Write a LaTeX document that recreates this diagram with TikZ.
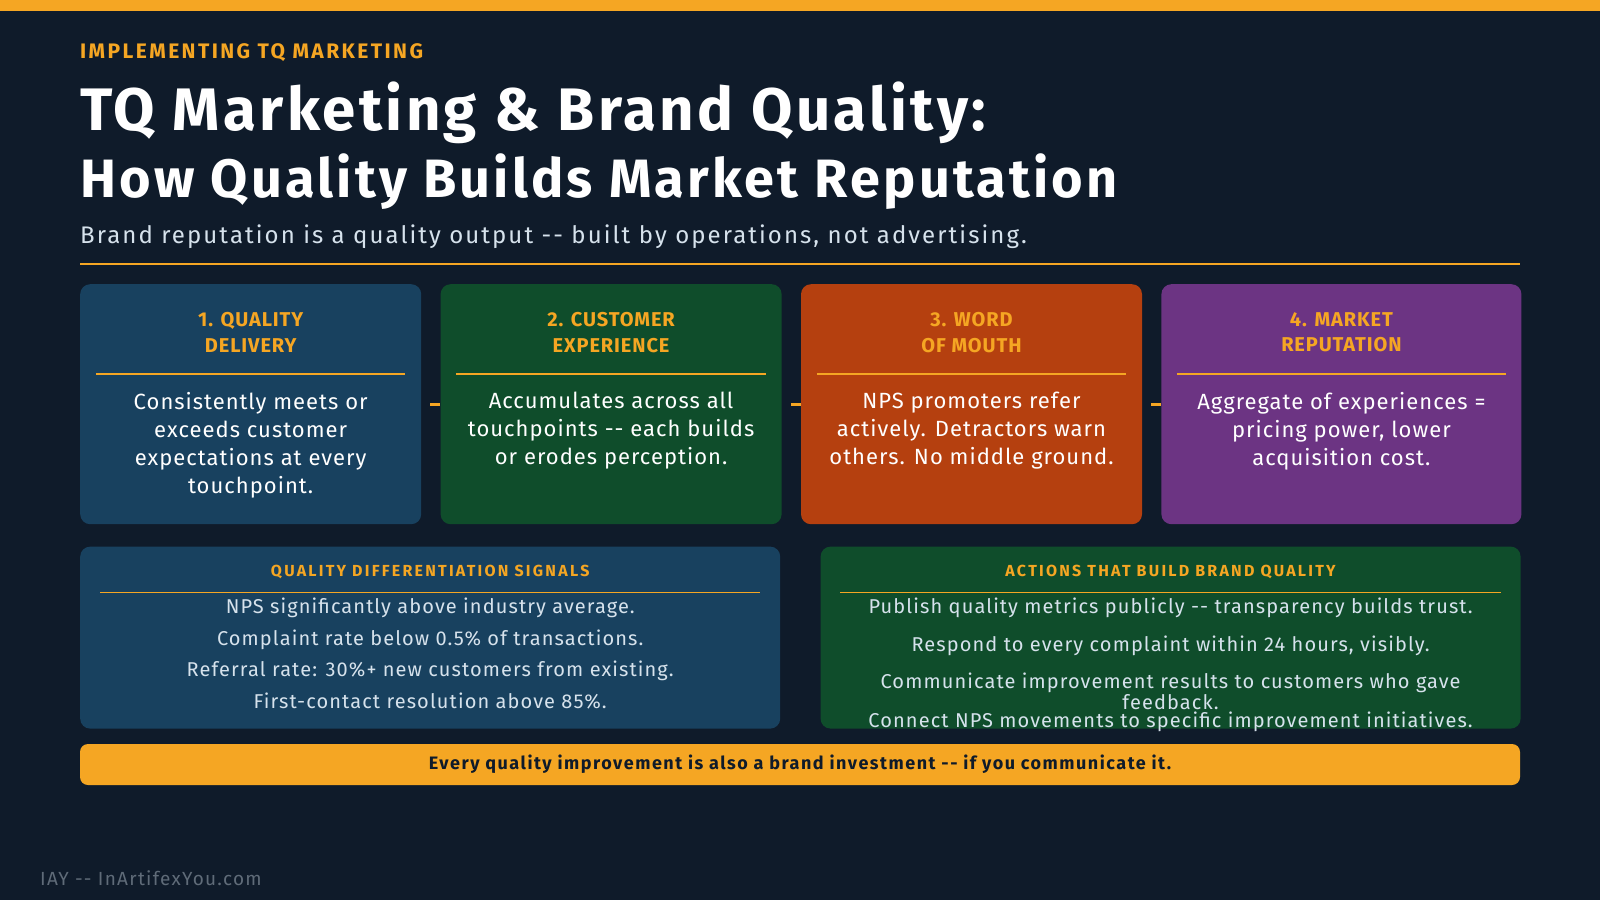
\documentclass[tikz,border=0pt]{standalone}
\usepackage{fontspec}
\setmainfont{Fira Sans}
\usetikzlibrary{positioning, calc}

\definecolor{navybg}{HTML}{0F1B2A}
\definecolor{accent}{HTML}{F5A623}
\definecolor{boxblue}{HTML}{18415F}
\definecolor{boxgreen}{HTML}{0F4D2B}
\definecolor{boxorange}{HTML}{B5400F}
\definecolor{boxpurple}{HTML}{6C3483}
\definecolor{paletext}{HTML}{D6E2EC}
\definecolor{footgray}{HTML}{5F6B78}
\newcommand{\track}[1]{\addfontfeatures{LetterSpace=#1}}

\begin{document}
\begin{tikzpicture}[x=1pt, y=-1pt,
  stage/.style={rectangle, rounded corners=10pt, minimum width=341pt,
                minimum height=240pt, inner sep=0pt, anchor=north west},
  stagehead/.style={anchor=north, align=center, inner sep=0pt, text=accent,
                    font=\fontsize{20}{25.6}\selectfont\bfseries\track{4.5}},
  stagebody/.style={anchor=north, align=center, inner sep=0pt, text=white,
                    font=\fontsize{22}{28}\selectfont\track{4.6}},
  panel/.style={rectangle, rounded corners=10pt, minimum width=700pt,
                minimum height=182pt, inner sep=0pt},
  panelhead/.style={anchor=base, inner sep=0pt, text=accent,
                    font=\fontsize{16}{19}\selectfont\bfseries\track{14}},
  item/.style={anchor=base, align=center, inner sep=0pt, text=paletext,
               font=\fontsize{20}{21}\selectfont\track{5.5}},
  rule/.style={draw=accent, line width=1.5pt},
  link/.style={draw=accent, line width=3pt, shorten <=9pt},
  node distance=19pt
]
\useasboundingbox (0,0) rectangle (1600,900);
\fill[navybg] (0,0) rectangle (1600,900);
\fill[accent] (0,0) rectangle (1600,11);

% Titles
\node[anchor=base west, inner sep=0pt, text=accent, font=\fontsize{21}{24}\selectfont\bfseries\track{11.5}]
  (kicker) at (80,58) {IMPLEMENTING TQ MARKETING};
\node[anchor=base west, inner sep=0pt, text=white, font=\fontsize{60}{70}\selectfont\bfseries\track{5.6}]
  (title) at (80,130) {TQ Marketing \& Brand Quality:};
\node[anchor=base west, inner sep=0pt, text=white, font=\fontsize{54}{60}\selectfont\bfseries\track{6}]
  (subtitle) at (80,197) {How Quality Builds Market Reputation};
\node[anchor=base west, inner sep=0pt, text=paletext, font=\fontsize{24}{28}\selectfont\track{8.6}]
  (tagline) at (80,243) {Brand reputation is a quality output -{}- built by operations, not advertising.};
\draw[rule] (80,264) -- (1520,264);

% Stages
\node[stage, fill=boxblue] (b1) at (80,284) {};
\node[stage, fill=boxgreen, right=of b1] (b2) {};
\node[stage, fill=boxorange, right=of b2] (b3) {};
\node[stage, fill=boxpurple, minimum width=360pt, right=of b3] (b4) {};

\node[stagehead] (h1) at ($(b1.north)+(0,28)$) {1. QUALITY\\DELIVERY};
\node[stagehead] (h2) at ($(b2.north)+(0,28)$) {2. CUSTOMER\\EXPERIENCE};
\node[stagehead] (h3) at ($(b3.north)+(0,28)$) {3. WORD\\OF MOUTH};
\node[stagehead] (h4) at ($(b4.north)+(0,28)$) {4. MARKET\\REPUTATION};

\foreach \b in {b1,b2,b3,b4}
  \draw[rule] ($(\b.north west)+(16,90)$) -- ($(\b.north east)+(-16,90)$);

\node[stagebody] (t1) at ($(b1.north)+(0,108)$) {Consistently meets or\\exceeds customer\\expectations at every\\touchpoint.};
\node[stagebody] (t2) at ($(b2.north)+(0,108)$) {Accumulates across all\\touchpoints -{}- each builds\\or erodes perception.};
\node[stagebody] (t3) at ($(b3.north)+(0,108)$) {NPS promoters refer\\actively. Detractors warn\\others. No middle ground.};
\node[stagebody] (t4) at ($(b4.north)+(0,108)$) {Aggregate of experiences =\\pricing power, lower\\acquisition cost.};

\draw[link] (b1) -- (b2);
\draw[link] (b2) -- (b3);
\draw[link] (b3) -- (b4);

% Panels
\node[panel, fill=boxblue, below=22pt of b1.south west, anchor=north west] (p1) {};
\node[panel, fill=boxgreen, right=40pt of p1] (p2) {};

\node[panelhead] (ph1) at ($(p1.north)+(0,30)$) {QUALITY DIFFERENTIATION SIGNALS};
\node[panelhead] (ph2) at ($(p2.north)+(0,30)$) {ACTIONS THAT BUILD BRAND QUALITY};
\draw[rule] ($(p1.north west)+(20,46)$) -- ($(p1.north east)+(-20,46)$);
\draw[rule] ($(p2.north west)+(20,46)$) -- ($(p2.north east)+(-20,46)$);

\foreach \txt [count=\i from 0] in {NPS significantly above industry average.,
    Complaint rate below 0.5\% of transactions.,
    Referral rate: 30\%+ new customers from existing.,
    First-contact resolution above 85\%.}
  \node[item] (s\i) at ($(p1.north)+(0,67.3+31.5*\i)$) {\txt};

\node[item] (a1) at ($(p2.north)+(0,67)$) {Publish quality metrics publicly -{}- transparency builds trust.};
\node[item] (a2) at ($(p2.north)+(0,105)$) {Respond to every complaint within 24 hours, visibly.};
\node[item] (a3) at ($(p2.north)+(0,163)$) {Communicate improvement results to customers who gave\\feedback.};
\node[item] (a4) at ($(p2.north)+(0,181)$) {Connect NPS movements to specific improvement initiatives.};

% Banner and footer
\node[rectangle, rounded corners=8pt, fill=accent, minimum width=1440pt, minimum height=41pt,
      inner sep=0pt, text=navybg, font=\fontsize{18}{22}\selectfont\bfseries\track{8.4}]
  (banner) at (800,764.5) {Every quality improvement is also a brand investment -{}- if you communicate it.};
\node[anchor=base west, inner sep=0pt, text=footgray, font=\fontsize{19}{22}\selectfont\track{6.7}]
  (footer) at (40,885) {IAY -{}- InArtifexYou.com};
\end{tikzpicture}
\end{document}
